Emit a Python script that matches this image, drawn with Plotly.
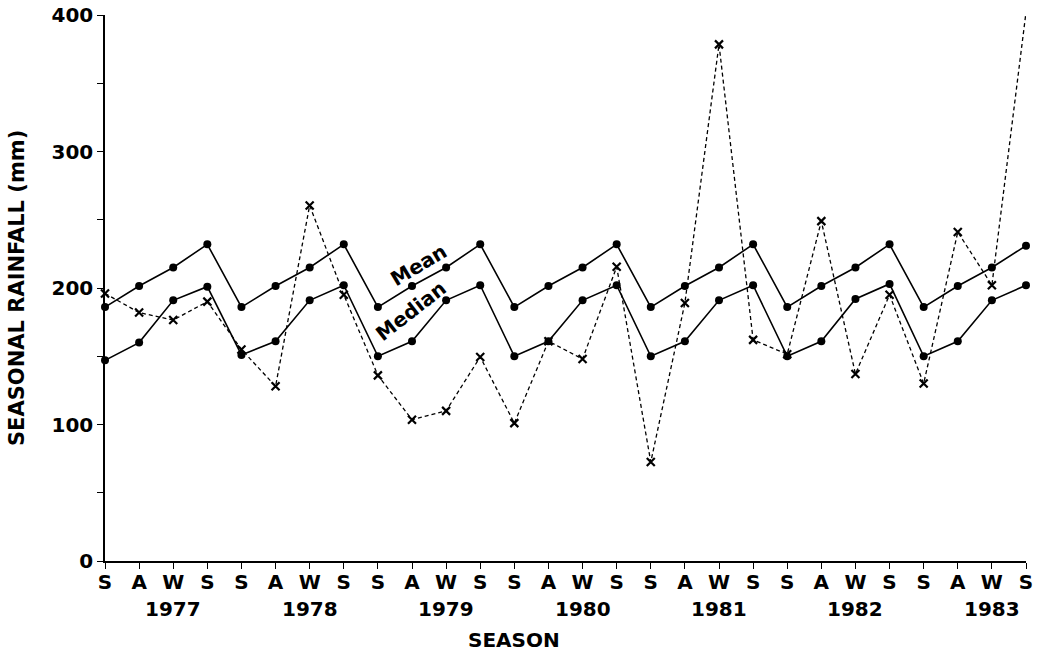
import plotly.graph_objects as go

seasons = ["S", "A", "W", "S"] * 7
years = ["1977", "1978", "1979", "1980", "1981", "1982", "1983"]

mean_rain = [186, 201.5, 215, 232, 186, 201.5, 215, 232, 186, 201.5, 215, 232,
             186, 201.5, 215, 232, 186, 201.5, 215, 232, 186, 201.5, 215, 232,
             186, 201.5, 215, 231]
median_rain = [147, 160, 191, 201, 151, 161, 191, 202, 150, 161, 191, 202,
               150, 161, 191, 202, 150, 161, 191, 202, 150, 161, 192, 203,
               150, 161, 191, 202]
actual_rain = [196, 182, 176.5, 190, 155, 128, 260.5, 195, 136, 103.5, 110, 149.5,
               101, 161, 148, 215.5, 72.5, 189, 378.5, 162, 151.5, 249, 137, 195,
               130, 241, 202, 402]

x = list(range(len(seasons)))
FONT = "DejaVu Sans"

fig = go.Figure()
fig.add_trace(go.Scatter(
    x=x, y=actual_rain, mode="lines+markers", name="Observed",
    line=dict(color="black", width=1.3, dash="4px,3px"),
    marker=dict(symbol="x-thin", size=8, line=dict(color="black", width=2.2)),
    cliponaxis=False, showlegend=False))
fig.add_trace(go.Scatter(
    x=x, y=mean_rain, mode="lines+markers", name="Mean",
    line=dict(color="black", width=1.6),
    marker=dict(symbol="circle", size=8, color="black"),
    cliponaxis=False, showlegend=False))
fig.add_trace(go.Scatter(
    x=x, y=median_rain, mode="lines+markers", name="Median",
    line=dict(color="black", width=1.6),
    marker=dict(symbol="circle", size=8, color="black"),
    cliponaxis=False, showlegend=False))

fig.update_xaxes(
    range=[0, 27], tickmode="array", tickvals=x, ticktext=seasons,
    showline=True, linecolor="black", linewidth=2, mirror=False,
    ticks="outside", ticklen=6, tickwidth=1.2, tickcolor="black",
    ticklabelstandoff=-4, ticklabeloverflow="allow",
    tickfont=dict(family=FONT, size=20, color="black", weight="bold"),
    showgrid=False, zeroline=False, automargin=False)
fig.update_yaxes(
    range=[0, 400], tickmode="array", tickvals=[0, 100, 200, 300, 400],
    showline=True, linecolor="black", linewidth=1.5,
    ticks="outside", ticklen=6, tickwidth=1.2, tickcolor="black",
    ticklabeloverflow="allow",
    minor=dict(tickvals=[50, 150, 250, 350], ticks="outside", ticklen=6,
               tickwidth=1.2, tickcolor="black", showgrid=False),
    tickfont=dict(family=FONT, size=20, color="black", weight="bold"),
    showgrid=False, zeroline=False, automargin=False)

annotations = []
for k, yr in enumerate(years):
    annotations.append(dict(
        x=2 + 4 * k, xref="x", y=0, yref="paper", yanchor="middle",
        yshift=-48, text=yr, showarrow=False,
        font=dict(family=FONT, size=20, color="black", weight="bold")))
annotations.append(dict(
    x=12, xref="x", y=0, yref="paper", yanchor="middle", yshift=-79,
    text="SEASON", showarrow=False,
    font=dict(family=FONT, size=20, color="black", weight="bold")))
annotations.append(dict(
    x=0, xref="paper", y=0.5, yref="paper", xanchor="center", yanchor="middle",
    xshift=-88, textangle=-90,
    text="SEASONAL RAINFALL (mm)", showarrow=False,
    font=dict(family=FONT, size=21, color="black", weight="bold")))
annotations.append(dict(
    x=9.2, xref="x", y=217, yref="y", textangle=-31, text="Mean",
    showarrow=False, font=dict(family=FONT, size=20, color="black", weight="bold")))
annotations.append(dict(
    x=8.97, xref="x", y=183, yref="y", textangle=-38, text="Median",
    showarrow=False, font=dict(family=FONT, size=20, color="black", weight="bold")))

fig.update_layout(
    width=1044, height=655,
    margin=dict(l=105, r=18, t=15, b=94, autoexpand=False),
    paper_bgcolor="white", plot_bgcolor="white",
    annotations=annotations)

fig.write_html("out.html",
               config={"displayModeBar": False},
               post_script="document.body.style.margin='0';document.body.style.overflow='hidden';")
